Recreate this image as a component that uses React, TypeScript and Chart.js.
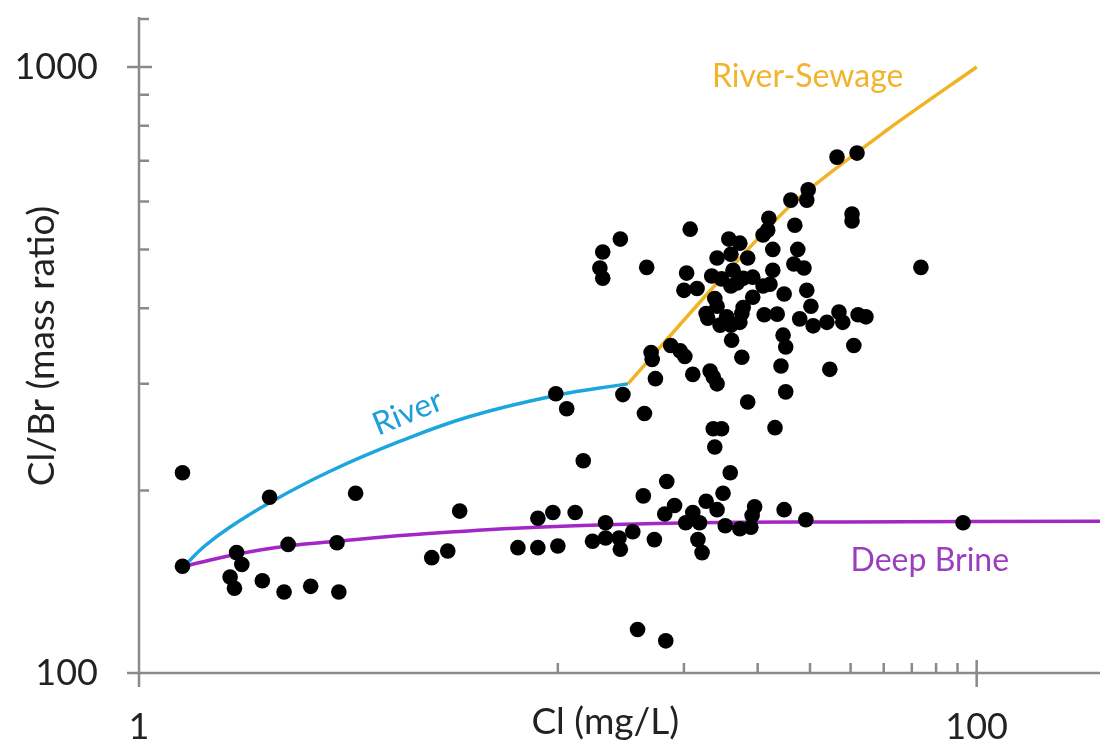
import React, { useEffect, useRef } from "react";
import { Chart, registerables } from "chart.js";

Chart.register(...registerables);

// ---- Data ----
const sampleCl = [
  1.27, 2.05, 3.29, 5.83, 1.27, 1.71, 1.76, 1.65, 1.69, 1.97,
  2.22, 2.57, 3.0, 2.27, 2.97, 5.0, 5.46, 8.03, 8.96, 10.0,
  8.96, 9.73, 11.0, 13.0, 12.1, 13.0, 14.0, 14.1, 15.1, 17.0,
  16.0, 18.2, 19.0, 18.0, 20.2, 21.0, 21.8, 21.6, 22.1, 22.6,
  24.0, 15.5, 18.1, 11.5, 23.7, 25.8, 24.8, 29.5, 29.1, 34.7,
  39.1, 25.1, 27.2, 28.9, 92.8, 9.89, 10.5, 14.3, 16.1, 28.4,
  35.0, 33.0, 23.5, 24.6, 14.1, 12.8, 12.6, 12.8, 16.3, 20.7,
  25.6, 27.2, 25.9, 24.0, 28.4, 20.3, 20.0, 21.5, 23.3, 24.6,
  26.2, 26.8, 25.9, 27.7, 29.2, 30.9, 32.1, 32.6, 32.6, 31.9,
  31.7, 30.9, 36.8, 37.4, 36.6, 38.7, 39.3, 34.7, 29.2, 23.7,
  24.0, 27.7, 27.5, 22.6, 22.8, 25.3, 24.4, 25.9, 27.2, 31.1,
  33.4, 37.8, 40.2, 40.7, 43.9, 46.9, 47.9, 52.1, 54.4, 34.5,
  35.0, 26.0, 27.5, 34.1, 44.6, 50.9, 50.4, 50.4, 73.6, 16.7,
  16.8, 18.6, 19.6, 20.1, 17.1, 21.0, 23.1, 23.5, 24.0, 46.4,
  51.8, 36.0, 39.6, 39.3,
];
const sampleClBr = [
  214, 195, 198, 185, 150, 158, 151, 144, 138, 142,
  136, 139, 136, 163, 164, 155, 159, 161, 161, 162,
  180, 184, 184, 177, 165, 167, 167, 160, 171, 166,
  196, 207, 189, 183, 177, 184, 177, 166, 158, 192,
  186, 118, 113, 224, 236, 214, 198, 188, 182, 186,
  179, 175, 173, 174, 177, 289, 273, 288, 268, 280,
  291, 254, 253, 253, 520, 495, 466, 448, 467, 540,
  520, 512, 491, 484, 484, 457, 428, 431, 452, 447,
  462, 440, 435, 448, 450, 435, 438, 462, 500, 563,
  538, 528, 548, 500, 473, 466, 428, 422, 417, 415,
  403, 401, 392, 392, 385, 387, 375, 375, 379, 390,
  391, 384, 403, 374, 379, 394, 379, 390, 387, 361,
  345, 354, 332, 321, 317, 347, 572, 557, 467, 338,
  329, 347, 340, 333, 306, 311, 315, 308, 300, 710,
  721, 603, 627, 603,
];

const riverCl = [1.28, 1.435, 1.647, 2.05, 2.85, 4.19, 6.16, 9.89, 14.7];
const riverClBr = [150, 162, 174, 191, 215, 241, 265, 287, 300];

const sewageCl = [14.7, 23.5, 36.4, 61.1, 100];
const sewageClBr = [300, 433, 596, 787, 1000];

const brineCl = [1.28, 1.71, 2.27, 2.97, 5.0, 8.9, 21.6, 47.2, 200];
const brineClBr = [150, 157, 162, 165, 170, 174, 177, 177.5, 178];

const xMajorTicks = [1, 100];
const xMinorTicks = [10, 20, 30, 40, 50, 60, 70, 80, 90];
const yMajorTicks = [100, 1000];
const yMinorTicks = [200, 300, 400, 500, 600, 700, 800, 900, 1200];

const X_MIN = 1;
const X_MAX = 197;
const Y_MIN = 100;
const Y_MAX = 1200;

// ---- Styles ----
const FONT_FAMILY = "Lato, 'Open Sans', sans-serif";
const TEXT_COLOR = "#222222";
const AXIS_COLOR = "#8a8a8a";
const GOLD = "#F0B325";
const BLUE = "#1DA6DE";
const PURPLE = "#A327C4";

const annotationLabels = [
  { text: "River-Sewage", x: 39.5, y: 965, color: "#F2B42E", angle: 0 },
  { text: "River", x: 4.38, y: 269, color: "#1E9FD8", angle: -22 },
  { text: "Deep Brine", x: 77.3, y: 153.5, color: "#9B3DBF", angle: 0 },
];

const toPoints = (xs: number[], ys: number[]) => xs.map((x, i) => ({ x, y: ys[i] }));

const zeroPadding = (s: any) => {
  s.paddingTop = 0;
  s.paddingBottom = 0;
  s.paddingLeft = 0;
  s.paddingRight = 0;
};

const axesPlugin = {
  id: "customAxes",
  beforeDatasetsDraw(chart: any) {
    const { ctx, chartArea, scales } = chart;
    const xs = scales.x;
    const ys = scales.y;
    const { left, right, top, bottom } = chartArea;
    ctx.save();
    ctx.strokeStyle = AXIS_COLOR;
    ctx.lineWidth = 2.5;
    ctx.lineCap = "butt";
    ctx.beginPath();
    ctx.moveTo(left, top - 2);
    ctx.lineTo(left, bottom + 14);
    ctx.moveTo(left - 12, bottom);
    ctx.lineTo(right, bottom);
    yMajorTicks.forEach((v) => {
      const py = ys.getPixelForValue(v);
      ctx.moveTo(left - 12, py);
      ctx.lineTo(left + 13, py);
    });
    yMinorTicks.forEach((v) => {
      const py = ys.getPixelForValue(v);
      ctx.moveTo(left, py);
      ctx.lineTo(left + 10, py);
    });
    xMajorTicks.forEach((v) => {
      const px = xs.getPixelForValue(v);
      ctx.moveTo(px, bottom - 13);
      ctx.lineTo(px, bottom + 14);
    });
    xMinorTicks.forEach((v) => {
      const px = xs.getPixelForValue(v);
      ctx.moveTo(px, bottom);
      ctx.lineTo(px, bottom - 10);
    });
    ctx.stroke();
    ctx.restore();
  },
  afterDatasetsDraw(chart: any) {
    const { ctx, scales } = chart;
    ctx.save();
    ctx.font = `32px ${FONT_FAMILY}`;
    ctx.textAlign = "center";
    ctx.textBaseline = "middle";
    annotationLabels.forEach((a) => {
      const px = scales.x.getPixelForValue(a.x);
      const py = scales.y.getPixelForValue(a.y);
      ctx.save();
      ctx.translate(px, py);
      ctx.rotate((a.angle * Math.PI) / 180);
      ctx.fillStyle = a.color;
      ctx.fillText(a.text, 0, 0);
      ctx.restore();
    });
    ctx.restore();
  },
};

export default function App() {
  const canvasRef = useRef<HTMLCanvasElement | null>(null);

  useEffect(() => {
    if (!canvasRef.current) return;
    const lineStyle = {
      showLine: true,
      borderWidth: 3.5,
      pointRadius: 0,
    };
    const chart = new Chart(canvasRef.current, {
      type: "scatter",
      data: {
        datasets: [
          {
            label: "Samples",
            data: toPoints(sampleCl, sampleClBr),
            backgroundColor: "#000000",
            borderWidth: 0,
            pointRadius: 7.8,
            showLine: false,
            order: 0,
          },
          { label: "River", data: toPoints(riverCl, riverClBr), borderColor: BLUE, order: 1, tension: 0.4, ...lineStyle },
          { label: "River-Sewage", data: toPoints(sewageCl, sewageClBr), borderColor: GOLD, order: 2, tension: 0.25, ...lineStyle },
          { label: "Deep Brine", data: toPoints(brineCl, brineClBr), borderColor: PURPLE, order: 3, tension: 0.4, ...lineStyle },
        ],
      } as any,
      options: {
        animation: false,
        responsive: false,
        maintainAspectRatio: false,
        layout: { autoPadding: false, padding: { top: 19, right: 0, left: 0, bottom: 0 } },
        plugins: { legend: { display: false }, tooltip: { enabled: false } },
        scales: {
          x: {
            type: "logarithmic",
            position: "bottom",
            min: X_MIN,
            max: X_MAX,
            grid: { display: false, drawTicks: false },
            border: { display: false },
            afterBuildTicks: (s: any) => {
              s.ticks = xMajorTicks.map((v) => ({ value: v }));
            },
            afterFit: (s: any) => {
              s.height = 78;
              zeroPadding(s);
            },
            ticks: {
              autoSkip: false,
              maxRotation: 0,
              padding: 33,
              color: TEXT_COLOR,
              font: { family: FONT_FAMILY, size: 36 },
              callback: (v: any) => String(v),
            },
            title: {
              display: true,
              text: "Cl (mg/L)   ",
              color: TEXT_COLOR,
              font: { family: FONT_FAMILY, size: 37 },
              padding: { top: 0, bottom: 7 },
            },
          },
          y: {
            type: "logarithmic",
            position: "left",
            min: Y_MIN,
            max: Y_MAX,
            grid: { display: false, drawTicks: false },
            border: { display: false },
            afterBuildTicks: (s: any) => {
              s.ticks = yMajorTicks.map((v) => ({ value: v }));
            },
            afterFit: (s: any) => {
              s.width = 139;
              zeroPadding(s);
            },
            ticks: {
              autoSkip: false,
              padding: 41,
              color: TEXT_COLOR,
              font: { family: FONT_FAMILY, size: 36 },
              callback: (v: any) => String(v),
            },
            title: {
              display: true,
              text: "Cl/Br (mass ratio)",
              color: TEXT_COLOR,
              font: { family: FONT_FAMILY, size: 37 },
              padding: { top: 20, bottom: 0 },
            },
          },
        },
      } as any,
      plugins: [axesPlugin],
    });
    return () => chart.destroy();
  }, []);

  return (
    <div style={{ position: "absolute", left: 0, top: 0, width: 1100, height: 751, background: "#ffffff" }}>
      <canvas ref={canvasRef} width={1100} height={751} style={{ display: "block" }} />
    </div>
  );
}
